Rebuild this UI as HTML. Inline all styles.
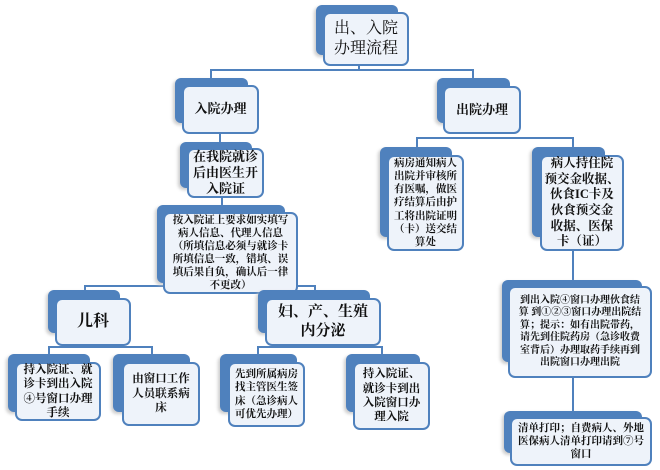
<!DOCTYPE html>
<html><head><meta charset="utf-8"><style>
body{margin:0;width:660px;height:470px;background:#fff;position:relative;overflow:hidden;font-family:"Liberation Serif","Noto Serif CJK SC","Noto Sans CJK SC",serif;}
.b{position:absolute;background:#4f81bd;border-radius:6px;box-shadow:-2px 2px 3px #ccc;}
.f{position:absolute;background:#eef3fa;border:2px solid #4f81bd;border-radius:7px;box-sizing:border-box;display:flex;align-items:center;justify-content:center;text-align:center;font-weight:bold;color:#111;line-height:1.25;}
.l{position:absolute;background:#4f81bd;}
</style></head><body>
<!-- lines -->
<div class="l" style="left:358px;top:64px;width:2px;height:7px"></div>
<div class="l" style="left:210px;top:69px;width:264px;height:2px"></div>
<div class="l" style="left:210px;top:69px;width:2px;height:10px"></div>
<div class="l" style="left:472px;top:69px;width:2px;height:10px"></div>
<div class="l" style="left:219px;top:132px;width:2px;height:12px"></div>
<div class="l" style="left:221px;top:196px;width:2px;height:10px"></div>
<div class="l" style="left:84px;top:285px;width:232px;height:2px"></div>
<div class="l" style="left:84px;top:285px;width:2px;height:7px"></div>
<div class="l" style="left:314px;top:285px;width:2px;height:7px"></div>
<div class="l" style="left:48px;top:346px;width:105px;height:2px"></div>
<div class="l" style="left:48px;top:346px;width:2px;height:9px"></div>
<div class="l" style="left:151px;top:346px;width:2px;height:9px"></div>
<div class="l" style="left:257px;top:346px;width:126px;height:2px"></div>
<div class="l" style="left:257px;top:346px;width:2px;height:9px"></div>
<div class="l" style="left:381px;top:346px;width:2px;height:9px"></div>
<div class="l" style="left:416px;top:137px;width:158px;height:2px"></div>
<div class="l" style="left:416px;top:137px;width:2px;height:11px"></div>
<div class="l" style="left:572px;top:137px;width:2px;height:11px"></div>
<div class="l" style="left:572px;top:249px;width:2px;height:32px"></div>
<div class="l" style="left:572px;top:377px;width:2px;height:36px"></div>

<div class="b" style="left:316px;top:5px;width:82px;height:50px"></div>
<div class="f" style="left:323px;top:12px;width:86px;height:54px;font-size:16px;font-weight:normal">出、入院<br>办理流程</div>

<div class="b" style="left:175px;top:78px;width:73px;height:45px"></div>
<div class="f" style="left:182px;top:85px;width:77px;height:49px;font-size:13px">入院办理</div>

<div class="b" style="left:437px;top:78px;width:73px;height:45px"></div>
<div class="f" style="left:443px;top:86px;width:78px;height:48px;font-size:13px">出院办理</div>

<div class="b" style="left:180px;top:142px;width:72px;height:46px"></div>
<div class="f" style="left:187px;top:148px;width:77px;height:50px;font-size:13px">在我院就诊<br>后由医生开<br>入院证</div>

<div class="b" style="left:157px;top:205px;width:128px;height:78px"></div>
<div class="f" style="left:163px;top:212px;width:135px;height:82px;font-size:10.5px">按入院证上要求如实填写<br>病人信息、代理人信息<br>（所填信息必须与就诊卡<br>所填信息一致，错填、误<br>填后果自负，确认后一律<br>不更改）</div>

<div class="b" style="left:380px;top:147px;width:72px;height:90px"></div>
<div class="f" style="left:387px;top:155px;width:77px;height:96px;font-size:10.5px">病房通知病人<br>出院并审核所<br>有医嘱，做医<br>疗结算后由护<br>工将出院证明<br>（卡）送交结<br>算处</div>

<div class="b" style="left:532px;top:147px;width:73px;height:90px"></div>
<div class="f" style="left:540px;top:155px;width:84px;height:96px;font-size:12.5px">病人持住院<br>预交金收据、<br>伙食IC卡及<br>伙食预交金<br>收据、医保<br>卡（证）</div>

<div class="b" style="left:48px;top:290px;width:72px;height:43px"></div>
<div class="f" style="left:55px;top:298px;width:76px;height:48px;font-size:16px">儿科</div>

<div class="b" style="left:258px;top:290px;width:112px;height:43px"></div>
<div class="f" style="left:265px;top:298px;width:116px;height:48px;font-size:15px">妇、产、生殖<br>内分泌</div>

<div class="b" style="left:8px;top:354px;width:82px;height:58px"></div>
<div class="f" style="left:15px;top:362px;width:86px;height:59px;font-size:11.5px">持入院证、就<br>诊卡到出入院<br>④号窗口办理<br>手续</div>

<div class="b" style="left:113px;top:354px;width:77px;height:58px"></div>
<div class="f" style="left:122px;top:362px;width:78px;height:64px;font-size:11.5px">由窗口工作<br>人员联系病<br>床</div>

<div class="b" style="left:220px;top:354px;width:77px;height:58px"></div>
<div class="f" style="left:228px;top:362px;width:77px;height:65px;font-size:10.5px">先到所属病房<br>找主管医生签<br>床（急诊病人<br>可优先办理）</div>

<div class="b" style="left:346px;top:354px;width:74px;height:58px"></div>
<div class="f" style="left:353px;top:362px;width:77px;height:68px;font-size:11.5px">持入院证、<br>就诊卡到出<br>入院窗口办<br>理入院</div>

<div class="b" style="left:502px;top:280px;width:140px;height:82px"></div>
<div class="f" style="left:508px;top:286px;width:144px;height:92px;font-size:10px">到出入院④窗口办理伙食结<br>算 到①②③窗口办理出院结<br>算；提示：如有出院带药，<br>请先到住院药房（急诊收费<br>室背后）办理取药手续再到<br>出院窗口办理出院</div>

<div class="b" style="left:504px;top:411px;width:138px;height:42px"></div>
<div class="f" style="left:510px;top:417px;width:142px;height:49px;font-size:10.5px">清单打印；自费病人、外地<br>医保病人清单打印请到⑦号<br>窗口</div>
</body></html>
